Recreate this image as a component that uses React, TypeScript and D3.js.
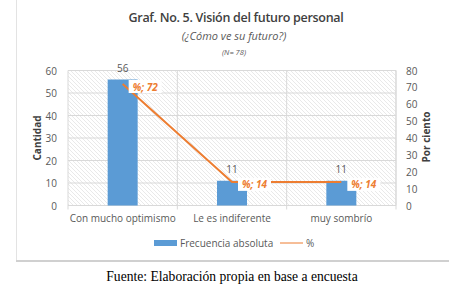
import React from "react";
import * as d3 from "d3";

const categories = ["Con mucho optimismo", "Le es indiferente", "muy sombrío"];
const frecuencia = [56, 11, 11];
const porcentaje = [72, 14, 14];
const leftTicks = [0, 10, 20, 30, 40, 50, 60];
const rightTicks = [0, 10, 20, 30, 40, 50, 60, 70, 80];

const W = 457, H = 289;
const m = { left: 68, right: 396, top: 70.5, bottom: 205.5 };
const font = "'Open Sans', 'Noto Sans', sans-serif";
const blue = "#5B9BD5";
const orange = "#ED7D31";
const grid = "#d9d9d9";
const textCol = "#595959";

export default function App() {
  const x = d3.scaleBand().domain(categories).range([m.left, m.right]);
  const yL = d3.scaleLinear().domain([0, 60]).range([m.bottom, m.top]);
  const yR = d3.scaleLinear().domain([0, 80]).range([m.bottom, m.top]);
  const barW = 30;
  const cx = (c: string) => (x(c) as number) + x.bandwidth() / 2;
  const line = d3
    .line<number>()
    .x((_, i) => cx(categories[i]))
    .y((d) => yR(d));

  return (
    <svg width={W} height={H} style={{ position: "absolute", left: 0, top: 0 }}>
      <defs>
        <pattern id="hatch" width="4" height="4" patternUnits="userSpaceOnUse">
          <rect width="4" height="4" fill="#ffffff" />
          <path d="M0,0 L4,4 M-1,3 L1,5 M3,-1 L5,1" stroke="#e0e0e0" strokeWidth="0.7" />
        </pattern>
      </defs>
      <rect width={W} height={H} fill="#fff" />
      {/* container border */}
      <line x1={16.5} y1={0} x2={16.5} y2={262} stroke="#e3e3e3" strokeWidth={1} />
      <line x1={16} y1={261} x2={449} y2={261} stroke="#d0d0d0" strokeWidth={2} />

      {/* title */}
      <text x={236} y={22} textAnchor="middle" fontFamily={font} fontSize={12.5} fontWeight={600} fill="#404040" letterSpacing={-0.3}>
        Graf. No. 5. Visión del futuro personal
      </text>
      <text x={234} y={40} textAnchor="middle" fontFamily={font} fontSize={11} fontStyle="italic" fill={textCol}>
        (¿Cómo ve su futuro?)
      </text>
      <text x={234} y={55} textAnchor="middle" fontFamily={font} fontSize={7.5} fontStyle="italic" fill={textCol}>
        (N= 78)
      </text>

      {/* plot background */}
      <rect x={m.left} y={m.top} width={m.right - m.left} height={m.bottom - m.top} fill="url(#hatch)" />
      {leftTicks.map((t) => (
        <line key={t} x1={m.left} x2={m.right} y1={yL(t)} y2={yL(t)} stroke={grid} strokeWidth={1} />
      ))}
      {[m.left, ...categories.map((c) => (x(c) as number) + x.bandwidth())].map((v, i) => (
        <line key={i} x1={v} x2={v} y1={m.top} y2={m.bottom + 4} stroke={grid} strokeWidth={1} />
      ))}
      <line x1={m.right} x2={m.right} y1={m.top} y2={m.bottom} stroke={grid} />

      {/* bars */}
      {frecuencia.map((v, i) => (
        <rect key={i} x={cx(categories[i]) - barW / 2} y={yL(v)} width={barW} height={yL(0) - yL(v)} fill={blue} />
      ))}
      {frecuencia.map((v, i) => (
        <text key={i} x={cx(categories[i])} y={yL(v) - 8} textAnchor="middle" fontFamily={font} fontSize={10} fill={textCol}>
          {v}
        </text>
      ))}

      {/* line */}
      <path d={line(porcentaje) || ""} fill="none" stroke={orange} strokeWidth={2} />
      {porcentaje.map((v, i) => {
        const px = cx(categories[i]);
        const py = yR(v);
        return (
          <g key={i}>
            <rect x={px + 6} y={py - 4} width={33} height={13} fill="#fff" />
            <text x={px + 22.5} y={py + 6.5} textAnchor="middle" fontFamily={font} fontSize={10} fontStyle="italic" fontWeight={700} fill={orange}>
              {`%; ${v}`}
            </text>
          </g>
        );
      })}

      {/* axes labels */}
      {leftTicks.map((t) => (
        <text key={t} x={57} y={yL(t) + 4} textAnchor="end" fontFamily={font} fontSize={10} fill={textCol}>
          {t}
        </text>
      ))}
      {rightTicks.map((t) => (
        <text key={t} x={406} y={yR(t) + 4} textAnchor="start" fontFamily={font} fontSize={10} fill={textCol}>
          {t}
        </text>
      ))}
      {categories.map((c) => (
        <text key={c} x={cx(c)} y={222} textAnchor="middle" fontFamily={font} fontSize={10} fill={textCol}>
          {c}
        </text>
      ))}
      <text transform={`translate(41,138) rotate(-90)`} textAnchor="middle" fontFamily={font} fontSize={10} fontWeight={700} fill="#404040">
        Cantidad
      </text>
      <text transform={`translate(430,137) rotate(-90)`} textAnchor="middle" fontFamily={font} fontSize={10} fontWeight={700} fill="#404040">
        Por ciento
      </text>

      {/* legend */}
      <rect x={154} y={240} width={23} height={6} fill={blue} />
      <text x={180} y={246.5} fontFamily={font} fontSize={10} fill={textCol}>
        Frecuencia absoluta
      </text>
      <line x1={280} x2={303} y1={243} y2={243} stroke={orange} strokeWidth={1} />
      <text x={306} y={246.5} fontFamily={font} fontSize={10} fill={textCol}>
        %
      </text>

      {/* footer */}
      <text x={232} y={281} textAnchor="middle" fontFamily="'Liberation Serif', 'DejaVu Serif', serif" fontSize={13.6} fill="#000">
        Fuente: Elaboración propia en base a encuesta
      </text>
    </svg>
  );
}
